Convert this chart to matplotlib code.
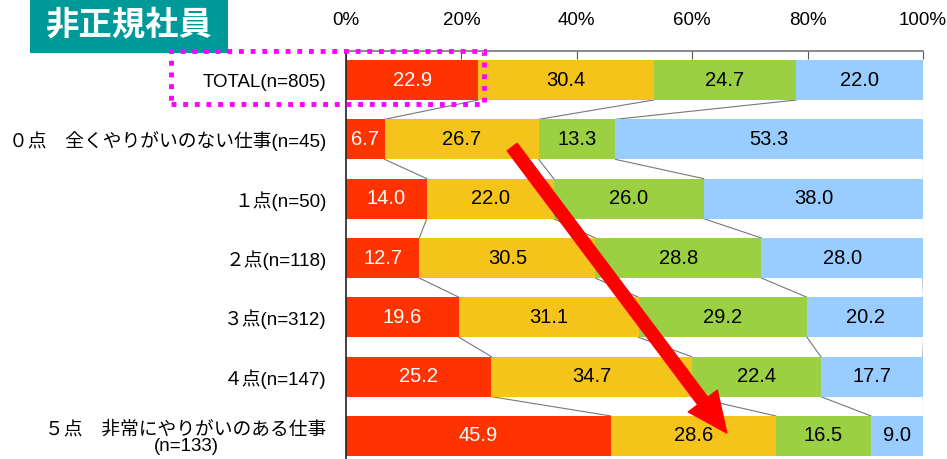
import matplotlib
matplotlib.use("Agg")
import matplotlib.pyplot as plt
from matplotlib import font_manager
from matplotlib.patches import Rectangle
import numpy as np

categories = [
    "TOTAL(n=805)",
    "０点　全くやりがいのない仕事(n=45)",
    "１点(n=50)",
    "２点(n=118)",
    "３点(n=312)",
    "４点(n=147)",
    "５点　非常にやりがいのある仕事\n(n=133)",
]
s1 = [22.9, 6.7, 14.0, 12.7, 19.6, 25.2, 45.9]
s2 = [30.4, 26.7, 22.0, 30.5, 31.1, 34.7, 28.6]
s3 = [24.7, 13.3, 26.0, 28.8, 29.2, 22.4, 16.5]
s4 = [22.0, 53.3, 38.0, 28.0, 20.2, 17.7, 9.0]
series = [s1, s2, s3, s4]
colors = ["#FF3300", "#F5C41A", "#9BD042", "#99CCFF"]
text_colors = ["white", "black", "black", "black"]
xticks = [0, 20, 40, 60, 80, 100]
xticklabels = ["0%", "20%", "40%", "60%", "80%", "100%"]
title = "非正規社員"

avail = {f.name for f in font_manager.fontManager.ttflist}
num_font = "Liberation Sans Narrow" if "Liberation Sans Narrow" in avail else "Liberation Sans"
num_size = 16 if num_font == "Liberation Sans Narrow" else 14.5
lab_font = ["Liberation Sans", "Noto Sans CJK JP", "DejaVu Sans"]
jp_font = ["Noto Sans CJK JP", "DejaVu Sans"]

fig = plt.figure(figsize=(9.47, 4.59), dpi=100)
ax = fig.add_axes([346/947, 0, (923-346)/947, 1 - 51/459])

n = len(categories)
y = np.arange(n)
h = 0.675
left = np.zeros(n)
for vals, c, tc in zip(series, colors, text_colors):
    vals = np.array(vals)
    ax.barh(y, vals, left=left, height=h, color=c, edgecolor="none", zorder=2)
    for yi, l, v in zip(y, left, vals):
        ax.text(l + v/2, yi, f"{v:.1f}", ha="center", va="center", color=tc,
                fontsize=num_size, family=num_font, zorder=4)
    left = left + vals

# connector lines between cumulative boundaries
cum = np.cumsum(np.array(series), axis=0)
for i in range(n - 1):
    for k in range(cum.shape[0]):
        ax.plot([cum[k, i], cum[k, i+1]], [i + h/2, i + 1 - h/2],
                color="#777777", lw=0.8, zorder=1)

ax.set_xlim(0, 100)
ax.set_ylim(6 + 23/59.3, -29/59.3)
ax.xaxis.tick_top()
ax.set_xticks(xticks)
ax.set_xticklabels(xticklabels, family=num_font, fontsize=num_size - 1)
ax.tick_params(axis="x", direction="in", length=6, color="#555555", pad=16)
ax.set_yticks(y)
ax.set_yticklabels(categories, family=lab_font, fontsize=13.5, ha="right",
                   multialignment="center")
ax.tick_params(axis="y", length=0, pad=14)
for lab in ax.get_yticklabels():
    lab.set_linespacing(1.0)
ax.spines["top"].set_color("#777777")
ax.spines["top"].set_linewidth(1.2)
ax.spines["left"].set_color("#222222")
ax.spines["left"].set_linewidth(1.2)
ax.spines["right"].set_visible(False)
ax.spines["bottom"].set_visible(False)

# red arrow
ax.annotate("", xy=(66.0, 5.95), xytext=(28.8, 1.13),
            arrowprops=dict(arrowstyle="simple,head_width=1.45,head_length=1.6,tail_width=0.5",
                            color="#FF0000", mutation_scale=18, shrinkA=0, shrinkB=0),
            zorder=5)

# title box
fig.patches.append(Rectangle((30/947, 1 - 53/459), (228-30)/947, 53/459,
                             transform=fig.transFigure, facecolor="#009999",
                             edgecolor="none", zorder=0))
fig.text(129/947, 1 - 25/459, title, ha="center", va="center", color="white",
         fontsize=24, fontweight="bold", family=jp_font)

# magenta dotted box
fig.patches.append(Rectangle((171/947, 1 - 104/459), (484-171)/947, (104-51)/459,
                             transform=fig.transFigure, facecolor="none",
                             edgecolor="#FF00FF", linewidth=3.5,
                             linestyle=(0, (1.0, 1.4)), zorder=10))

fig.savefig("out.png", dpi=100)
